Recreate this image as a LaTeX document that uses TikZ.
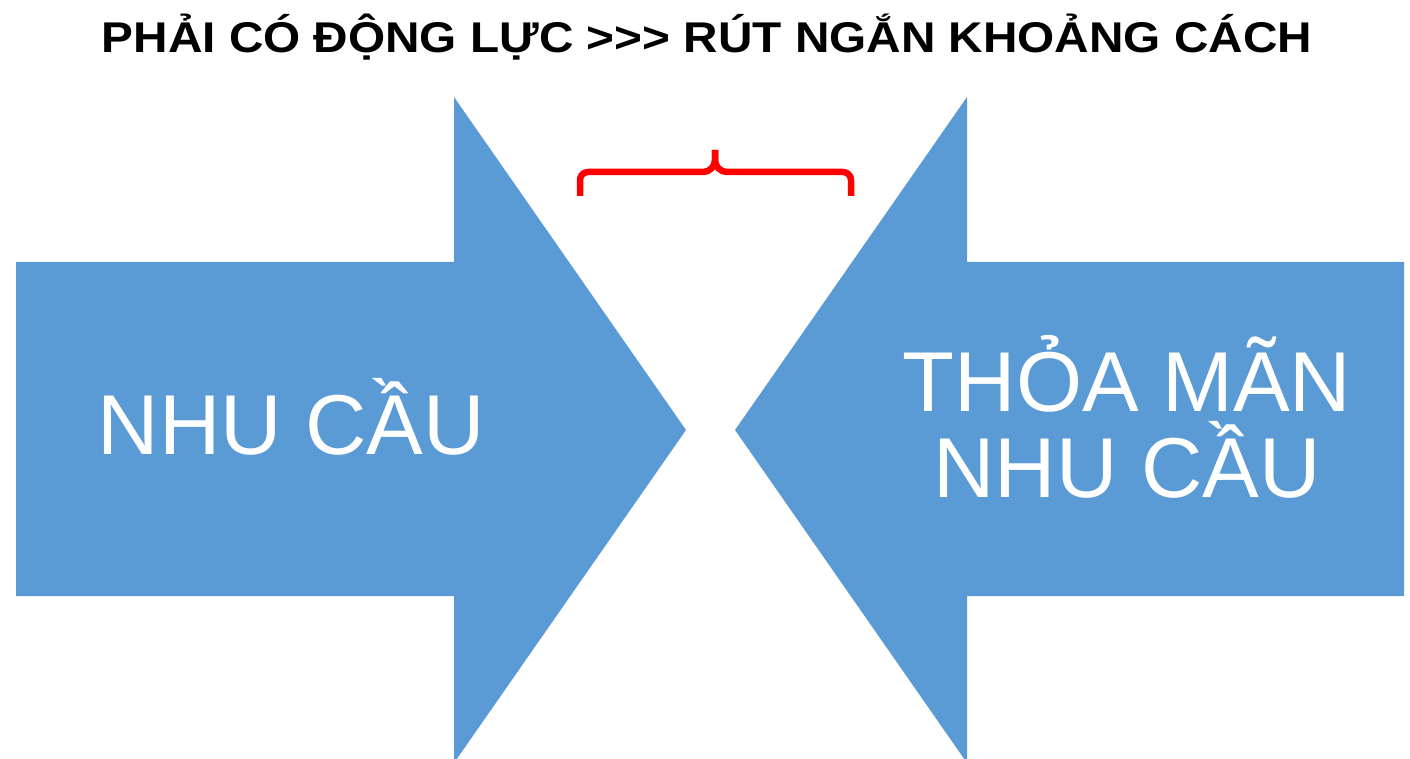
\documentclass[tikz,border=0pt]{standalone}
\usepackage{fontspec}
\setmainfont{Liberation Sans}
\definecolor{arrowblue}{HTML}{5B9BD5}
\definecolor{bracered}{HTML}{FF0000}
\begin{document}
\begin{tikzpicture}[x=1pt,y=1pt,
  arrowfill/.style={fill=arrowblue,draw=none},
  arrowtext/.style={text=white,font=\fontsize{85}{86}\selectfont,inner sep=0pt,anchor=base},
  bracepath/.style={draw=bracered,line width=6.5pt,line join=round}]
\useasboundingbox (0,0) rectangle (1410,758);
\begin{scope}
\clip (0,0) rectangle (1410,758);
% left arrow pointing right
\fill[arrowfill] (16,496) -- (454,496) -- (454,661) -- (686,328) -- (454,-5)
  -- (454,162) -- (16,162) -- cycle;
% right arrow pointing left
\fill[arrowfill] (1404,496) -- (967,496) -- (967,661) -- (735,328) -- (967,-5)
  -- (967,162) -- (1404,162) -- cycle;
\end{scope}
% title (kerns keep >>> from turning into guillemets)
\node[font=\fontsize{43}{48}\selectfont\bfseries,inner sep=0pt,anchor=base,xscale=1.11] (title) at (707,705)
  {PHẢI CÓ ĐỘNG LỰC >\kern0pt>\kern0pt> RÚT NGẮN KHOẢNG CÁCH};
% arrow labels
\node[arrowtext] (need) at (291.5,303) {NHU CẦU};
\node[arrowtext] (meettop) at (1127,346) {THỎA MÃN};
\node[arrowtext] (meetbottom) at (1127,260) {NHU CẦU};
% gap brace
\draw[bracepath] (580,562) -- (580,578) arc[start angle=180,end angle=90,radius=8]
  -- (703,586) arc[start angle=-90,end angle=0,radius=12] -- (715,608);
\draw[bracepath] (851,562) -- (851,578) arc[start angle=0,end angle=90,radius=8]
  -- (727,586) arc[start angle=270,end angle=180,radius=12] -- (715,608);
\end{tikzpicture}
\end{document}
